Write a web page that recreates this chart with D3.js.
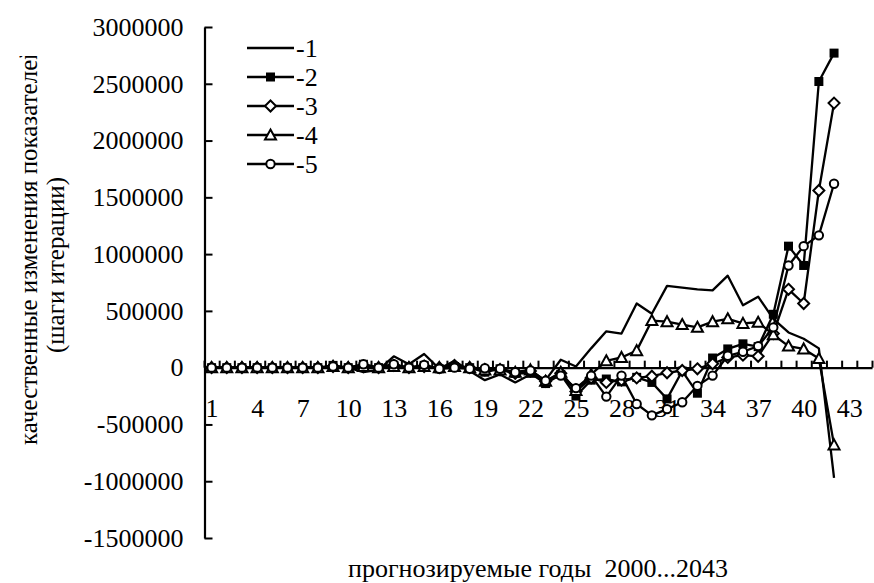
<!DOCTYPE html>
<html>
<head>
<meta charset="utf-8">
<script src="https://cdn.jsdelivr.net/npm/d3@7"></script>
<style>
  body { margin: 0; background: #fff; }
</style>
</head>
<body>
<svg id="chart" width="874" height="583"></svg>
<script>
// categories 1..42 (forecast years), axis has 44 slots
var categories = d3.range(1, 43);
var xTickLabels = [1, 4, 7, 10, 13, 16, 19, 22, 25, 28, 31, 34, 37, 40, 43];
var yTickValues = [-1500000, -1000000, -500000, 0, 500000, 1000000, 1500000, 2000000, 2500000, 3000000];

var series1 = [0, 0, 0, 0, 0, 0, 0, 0, 10000, 0,
  -40000, -20000, 100000, 30000, 120000, -10000, 60000, -30000, -110000, -60000,
  -130000, -60000, -110000, 70000, 10000, 170000, 320000, 300000, 565000, 475000,
  720000, 705000, 690000, 680000, 810000, 550000, 625000, 430000, 310000, 255000,
  170000, -970000];
var series2 = [0, 0, 0, 0, 0, 0, 0, 0, 20000, 0,
  30000, 0, 20000, 0, 20000, -10000, 10000, 0, -40000, -10000,
  -50000, -50000, -140000, -60000, -250000, -110000, -100000, -125000, -85000, -130000,
  -275000, -30000, -225000, 85000, 165000, 210000, 185000, 470000, 1070000, 900000,
  2520000, 2770000];
var series3 = [0, 0, 0, 0, 0, 0, 0, 0, 10000, 0,
  10000, 0, 20000, 0, 10000, 0, 20000, 0, -20000, -20000,
  -50000, -30000, -120000, -50000, -210000, -90000, -130000, -110000, -90000, -75000,
  -45000, -25000, -10000, 35000, 90000, 110000, 100000, 300000, 690000, 565000,
  1560000, 2330000];
var series4 = [0, 0, 0, 0, 0, 0, 0, 0, 10000, 0,
  10000, 0, 10000, 0, 10000, 0, 10000, 0, -20000, -20000,
  -40000, -20000, -120000, -40000, -200000, -60000, 60000, 90000, 150000, 415000,
  405000, 380000, 355000, 405000, 430000, 390000, 400000, 290000, 190000, 165000,
  80000, -680000];
var series5 = [0, 0, 0, 0, 0, 0, 0, 0, 10000, 0,
  30000, 0, 30000, 0, 25000, -10000, 0, -10000, -5000, -10000,
  -40000, -25000, -115000, -70000, -180000, -70000, -255000, -70000, -320000, -420000,
  -365000, -305000, -160000, -70000, 105000, 140000, 190000, 355000, 900000, 1070000,
  1165000, 1620000];
var seriesNames = ["-1", "-2", "-3", "-4", "-5"];
var markers = ["none", "square", "diamond", "triangle", "circle"];
var allSeries = [series1, series2, series3, series4, series5];

var FONT = "'Liberation Serif'";
var svg = d3.select("#chart");
var x = d3.scaleLinear().domain([0.5, 44.5]).range([204, 872]);
var y = d3.scaleLinear().domain([-1500000, 3000000]).range([538, 27]);

// y axis, ticks pointing inward, plain hyphen for negatives
var yAxis = d3.axisLeft(y).tickValues(yTickValues).tickSizeInner(-8).tickSizeOuter(0).tickPadding(21)
  .tickFormat(function(d) { return String(d); });
var gy = svg.append("g").attr("transform", "translate(204.5,0)").call(yAxis);
gy.select(".domain").attr("stroke", "#000").attr("stroke-width", 2.2);
gy.selectAll(".tick line").attr("stroke", "#000").attr("stroke-width", 2);
gy.selectAll(".tick text").attr("font-size", 26).style("font-family", FONT).attr("fill", "#000");

// x axis on the zero line, ticks between categories
var xTicks = d3.axisTop(x).tickValues(d3.range(0.5, 45, 1)).tickSizeInner(7).tickSizeOuter(0).tickFormat("");
var gx = svg.append("g").attr("transform", "translate(0," + y(0) + ")").call(xTicks);
gx.select(".domain").attr("stroke", "#000").attr("stroke-width", 2.2);
gx.selectAll(".tick line").attr("stroke", "#000").attr("stroke-width", 2);

var xLabels = d3.axisBottom(x).tickValues(xTickLabels).tickSize(0).tickPadding(31);
var gxl = svg.append("g").attr("transform", "translate(0," + y(0) + ")").call(xLabels);
gxl.select(".domain").remove();
gxl.selectAll(".tick text").attr("font-size", 26).style("font-family", FONT).attr("fill", "#000");

var line = d3.line().x(function(d, i) { return x(categories[i]); }).y(function(d) { return y(d); });

function drawMarker(g, type, cx, cy) {
  if (type === "square") {
    g.append("rect").attr("x", cx - 4.5).attr("y", cy - 4.5).attr("width", 9).attr("height", 9).attr("fill", "#000");
  } else if (type === "diamond") {
    g.append("path").attr("d", "M" + cx + "," + (cy - 5.5) + "L" + (cx + 5.5) + "," + cy + "L" + cx + "," + (cy + 5.5) + "L" + (cx - 5.5) + "," + cy + "Z")
      .attr("fill", "#fff").attr("stroke", "#000").attr("stroke-width", 2);
  } else if (type === "triangle") {
    g.append("path").attr("d", "M" + cx + "," + (cy - 5.5) + "L" + (cx + 5.5) + "," + (cy + 4.5) + "L" + (cx - 5.5) + "," + (cy + 4.5) + "Z")
      .attr("fill", "#fff").attr("stroke", "#000").attr("stroke-width", 2);
  } else if (type === "circle") {
    g.append("circle").attr("cx", cx).attr("cy", cy).attr("r", 4.2).attr("fill", "#fff").attr("stroke", "#000").attr("stroke-width", 2);
  }
}

allSeries.forEach(function(s, k) {
  var g = svg.append("g");
  g.append("path").attr("d", line(s)).attr("fill", "none").attr("stroke", "#000").attr("stroke-width", 2.3).attr("stroke-linejoin", "round");
  if (markers[k] !== "none") {
    s.forEach(function(v, i) { drawMarker(g, markers[k], x(categories[i]), y(v)); });
  }
});

// legend
var legend = svg.append("g");
seriesNames.forEach(function(name, k) {
  var ly = 48 + k * 29;
  legend.append("line").attr("x1", 247).attr("x2", 294).attr("y1", ly).attr("y2", ly).attr("stroke", "#000").attr("stroke-width", 2.3);
  if (markers[k] !== "none") drawMarker(legend, markers[k], 270.5, ly);
  legend.append("text").attr("x", 296).attr("y", ly + 9).attr("font-size", 26).style("font-family", FONT).text(name);
});

// axis titles
svg.append("text").attr("x", 538).attr("y", 577).attr("text-anchor", "middle").attr("font-size", 26)
  .style("font-family", FONT).style("white-space", "pre").attr("xml:space", "preserve")
  .text("прогнозируемые годы  2000...2043");

svg.append("clipPath").attr("id", "titleClip").append("rect").attr("x", 0).attr("y", 56).attr("width", 100).attr("height", 500);
var yt = svg.append("g").attr("clip-path", "url(#titleClip)");
yt.append("text").attr("transform", "translate(37,445) rotate(-90)").attr("font-size", 25).style("font-family", FONT)
  .text("качественные изменения показателей");
yt.append("text").attr("transform", "translate(64,265) rotate(-90)").attr("text-anchor", "middle").attr("font-size", 25).style("font-family", FONT)
  .text("(шаги итерации)");
</script>
</body>
</html>
